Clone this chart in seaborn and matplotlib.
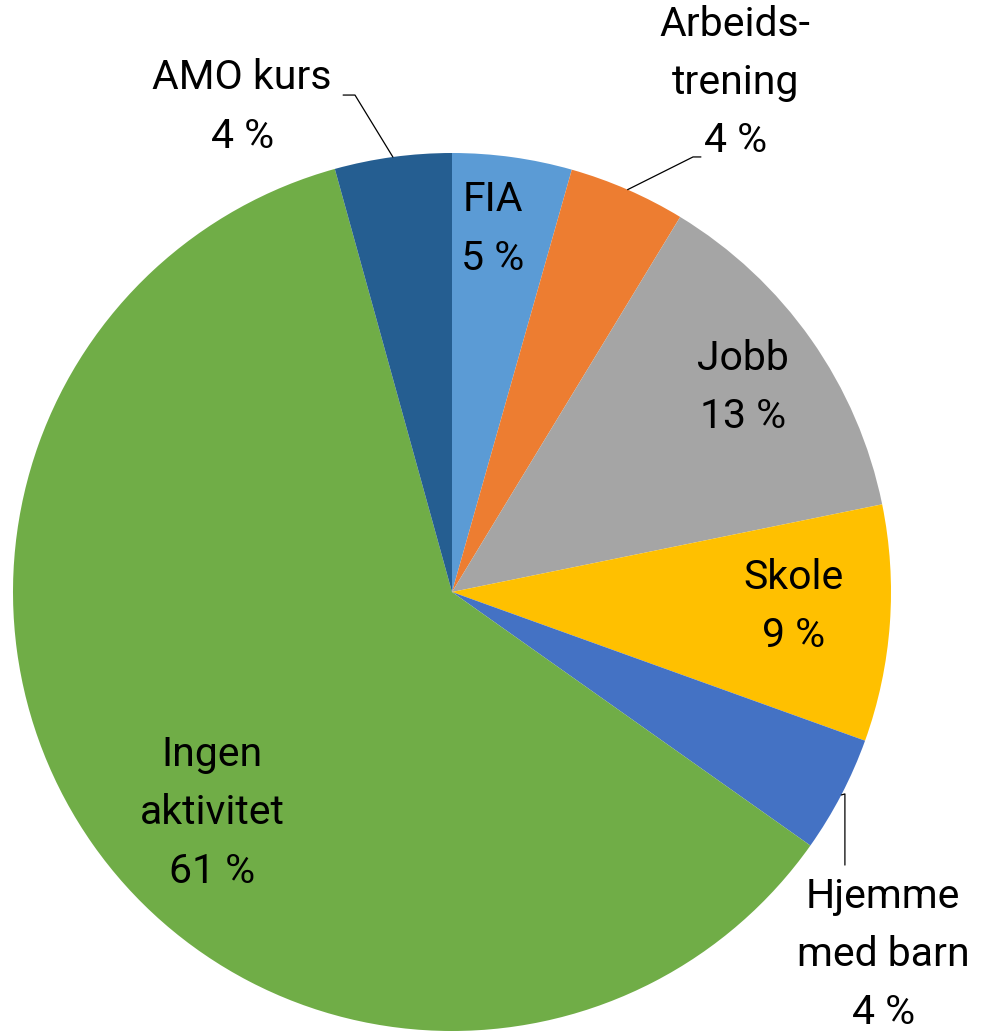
import matplotlib
matplotlib.use("Agg")
import matplotlib.pyplot as plt
import seaborn as sns
import numpy as np

sns.set_theme(style="white")
plt.rcParams['font.family'] = ['Roboto', 'DejaVu Sans']

categories = ["FIA", "Arbeids-\ntrening", "Jobb", "Skole", "Hjemme\nmed barn", "Ingen\naktivitet", "AMO kurs"]
values = [4.4, 4.3, 13.1, 8.7, 4.3, 60.9, 4.3]
pct_labels = ["5 %", "4 %", "13 %", "9 %", "4 %", "61 %", "4 %"]
colors = ["#5B9BD5", "#ED7D31", "#A5A5A5", "#FFC000", "#4472C4", "#70AD47", "#255E91"]

W, H = 985, 1032
fig = plt.figure(figsize=(W / 100, H / 100), dpi=100)
cx, cy, R = 452, 592, 439
ax = fig.add_axes([(cx - R) / W, (H - cy - R) / H, 2 * R / W, 2 * R / H])
wedges, _ = ax.pie(values, colors=colors, startangle=90, counterclock=False,
                   radius=1, wedgeprops=dict(linewidth=0))
ax.set_xlim(-1, 1)
ax.set_ylim(-1, 1)
ax.set_aspect('auto')
ax.axis('off')

fs = 29.5
ls = 1.62
# label placement in axes data units (radius = 1)
place = {
    0: dict(text=(0.093, 0.827)),
    1: dict(text=(0.645, 1.16), elbow=(0.549, 0.991), end=(0.567, 0.991)),
    2: dict(text=(0.663, 0.465)),
    3: dict(text=(0.779, -0.033)),
    4: dict(text=(0.982, -0.826), elbow=(0.895, -0.46), end=(0.895, -0.622)),
    5: dict(text=(-0.547, -0.503)),
    6: dict(text=(-0.478, 1.105), elbow=(-0.221, 1.132), end=(-0.248, 1.132)),
}
for i, w in enumerate(wedges):
    mid = np.deg2rad((w.theta1 + w.theta2) / 2)
    p = place[i]
    txt = f"{categories[i]}\n{pct_labels[i]}"
    if 'elbow' in p:
        ax_, ay_ = np.cos(mid), np.sin(mid)
        ex, ey = p['elbow']
        fx, fy = p['end']
        ax.plot([ax_, ex, fx], [ay_, ey, fy], color='black', lw=0.9, clip_on=False)
    tx, ty = p['text']
    ax.text(tx, ty, txt, ha='center', va='center', fontsize=fs, color='black',
            linespacing=ls, multialignment='center', clip_on=False)

fig.savefig("out.png", dpi=100)
